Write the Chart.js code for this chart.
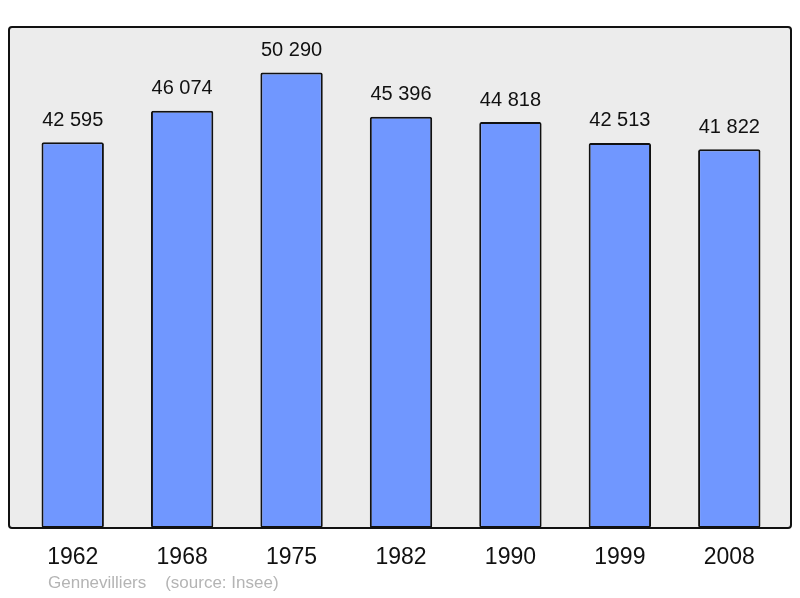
<!DOCTYPE html>
<html>
<head>
<meta charset="utf-8">
<script src="https://cdn.jsdelivr.net/npm/chart.js@4.4.0/dist/chart.umd.min.js"></script>
<style>
  html, body { margin:0; padding:0; background:#fff; }
  #wrap { width:800px; height:598px; }
</style>
</head>
<body>
<div id="wrap"><canvas id="popChart" width="800" height="598"></canvas></div>
<script>
// population data
const years = ["1962", "1968", "1975", "1982", "1990", "1999", "2008"];
const population = [42595, 46074, 50290, 45396, 44818, 42513, 41822];
const footerText = "Gennevilliers    (source: Insee)";

const FONT = "'Liberation Sans', Arial, sans-serif";

function fmt(n) {
  return String(n).replace(/\B(?=(\d{3})+(?!\d))/g, " ");
}

// grey panel with black frame behind the bars
const framePlugin = {
  id: 'frame',
  beforeDraw(chart) {
    const {ctx, chartArea: ca} = chart;
    ctx.save();
    ctx.fillStyle = '#ececec';
    ctx.beginPath();
    ctx.roundRect(ca.left - 9, ca.top, ca.right - ca.left + 16, ca.bottom - ca.top, 3);
    ctx.fill();
    ctx.restore();
  },
  afterDatasetsDraw(chart) {
    const {ctx, chartArea: ca} = chart;
    ctx.save();
    ctx.strokeStyle = '#111';
    ctx.lineWidth = 2;
    ctx.beginPath();
    ctx.roundRect(ca.left - 9, ca.top, ca.right - ca.left + 16, ca.bottom - ca.top, 3);
    ctx.stroke();

    // value labels above bars
    const meta = chart.getDatasetMeta(0);
    ctx.fillStyle = '#111';
    ctx.font = "20px " + FONT;
    ctx.textAlign = 'center';
    ctx.textBaseline = 'middle';
    meta.data.forEach((bar, i) => {
      ctx.fillText(fmt(population[i]), bar.x, bar.y - 22);
    });

    // footer
    ctx.fillStyle = '#b4b4b4';
    ctx.font = "17px " + FONT;
    ctx.textAlign = 'left';
    ctx.fillText(footerText, 48, 583);
    ctx.restore();
  }
};

new Chart(document.getElementById('popChart'), {
  type: 'bar',
  data: {
    labels: years,
    datasets: [{
      data: population,
      backgroundColor: '#7097ff',
      borderColor: '#111',
      borderWidth: 2,
      borderRadius: 2,
      borderSkipped: false,
      barPercentage: 0.57,
      categoryPercentage: 1
    }]
  },
  options: {
    responsive: false,
    animation: false,
    layout: { padding: { left: 18, right: 16, top: 27, bottom: 10.4 } },
    plugins: { legend: { display: false }, tooltip: { enabled: false } },
    scales: {
      x: {
        grid: { display: false, drawTicks: false },
        border: { display: false },
        ticks: { color: '#111', font: { size: 23, family: FONT }, padding: 16 }
      },
      y: {
        display: false,
        min: 0,
        max: 55319
      }
    }
  },
  plugins: [framePlugin]
});
</script>
</body>
</html>
